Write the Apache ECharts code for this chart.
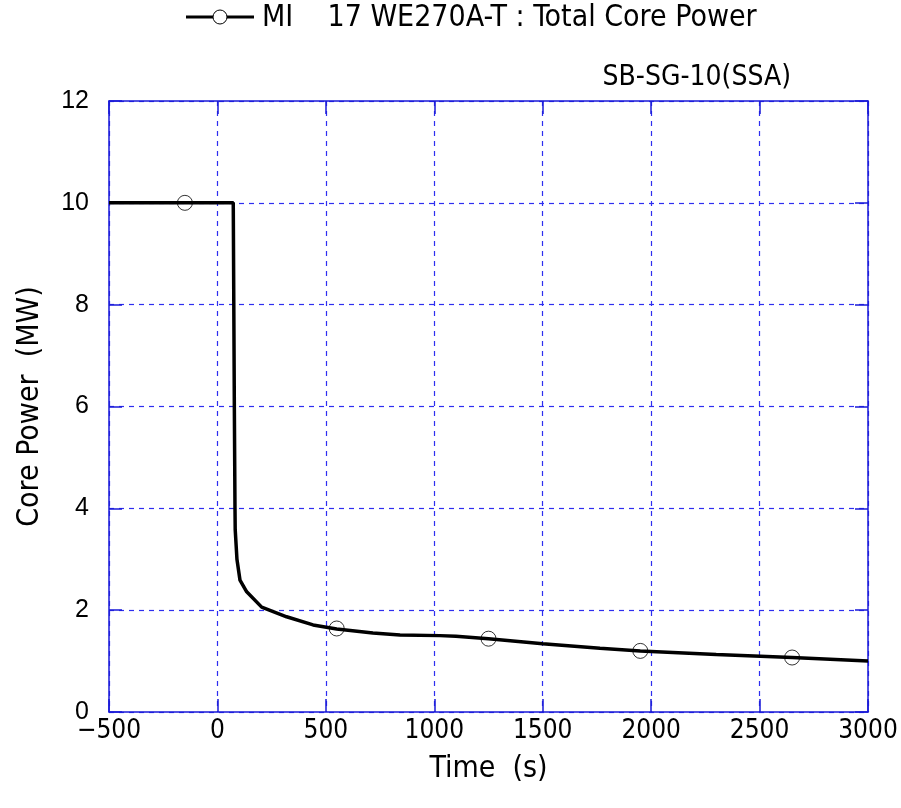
<!DOCTYPE html>
<html>
<head>
<meta charset="utf-8">
<script src="https://cdn.jsdelivr.net/npm/echarts@6/dist/echarts.min.js"></script>
<style>html,body{margin:0;padding:0;background:#fff}#c{width:901px;height:808px}</style>
</head>
<body>
<div id="c"></div>
<script>
const seriesName = 'MI    17 WE270A-T : Total Core Power';
const timeS = [-500, 73, 78, 81, 82, 90, 104, 135, 204, 319, 441, 550, 717, 842, 1026, 1100, 1250, 1500, 1764, 1950, 2300, 2650, 3000];
const powerMW = [10, 10, 6, 4, 3.58, 3.0, 2.59, 2.36, 2.06, 1.87, 1.71, 1.63, 1.55, 1.51, 1.50, 1.49, 1.44, 1.34, 1.25, 1.20, 1.13, 1.07, 1.0];
const markerTime = [-150, 550, 1250, 1950, 2650];
const markerPower = [10, 1.64, 1.44, 1.20, 1.07];
const xTicks = [-500, 0, 500, 1000, 1500, 2000, 2500, 3000];
const yTicks = [0, 2, 4, 6, 8, 10, 12];

const FONT = '"DejaVu Sans Condensed", "Liberation Sans Narrow", "Liberation Sans", sans-serif';
const BLUE = '#1a1ad8';
const GRIDC = '#2e2ef0';

const chart = echarts.init(document.getElementById('c'));
const line = timeS.map((t, i) => [t, powerMW[i]]);
const marks = markerTime.map((t, i) => [t, markerPower[i]]);

const axisCommon = {
  axisLine: {show: true, onZero: false, lineStyle: {color: BLUE, width: 1.5}},
  axisTick: {show: true, inside: true, length: 13, lineStyle: {color: BLUE, width: 1.5}},
};

chart.setOption({
  animation: false,
  backgroundColor: '#fff',
  grid: {left: 109, right: 33, top: 101, bottom: 96},
  legend: {show: false},
  graphic: [
    {type: 'line', shape: {x1: 186, y1: 17, x2: 254, y2: 17}, style: {stroke: '#000', lineWidth: 3}},
    {type: 'circle', shape: {cx: 220, cy: 17, r: 7}, style: {fill: '#fff', stroke: '#000', lineWidth: 1}},
    {type: 'text', left: 262, top: 3,
      style: {text: seriesName, font: '30px ' + FONT, fill: '#000'}},
    {type: 'text', right: 110, top: 64,
      style: {text: 'SB-SG-10(SSA)', font: '28px ' + FONT, fill: '#000'}}
  ],
  xAxis: [{
    type: 'value', min: -500, max: 3000, interval: 500,
    name: 'Time  (s)', nameLocation: 'middle', nameGap: 42,
    nameTextStyle: {fontFamily: FONT, fontSize: 30, color: '#000'},
    axisLabel: {color: '#000', fontFamily: FONT, fontSize: 26, margin: 6,
      formatter: v => xTicks.includes(v) ? String(v).replace('-', '−') : ''},
    splitLine: {show: true, lineStyle: {color: GRIDC, type: [5, 5], width: 1.2}},
    ...axisCommon
  }, {
    type: 'value', position: 'top', min: -500, max: 3000, interval: 500,
    axisLabel: {show: false}, splitLine: {show: false},
    ...axisCommon
  }],
  yAxis: [{
    type: 'value', min: 0, max: 12, interval: 2,
    name: 'Core Power  (MW)', nameLocation: 'middle', nameGap: 64,
    nameTextStyle: {fontFamily: FONT, fontSize: 30, color: '#000'},
    axisLabel: {color: '#000', fontFamily: '"Liberation Sans", Arial, sans-serif', fontSize: 25, margin: 20,
      formatter: v => yTicks.includes(v) ? String(v) : ''},
    splitLine: {show: true, lineStyle: {color: GRIDC, type: [5, 5], width: 1.2}},
    ...axisCommon
  }, {
    type: 'value', position: 'right', min: 0, max: 12, interval: 2,
    axisLabel: {show: false}, splitLine: {show: false},
    ...axisCommon
  }],
  series: [{
    name: seriesName,
    type: 'line',
    data: line,
    symbol: 'none',
    lineStyle: {color: '#000', width: 3.5},
    z: 3
  }, {
    name: 'markers',
    type: 'scatter',
    data: marks,
    symbol: 'circle', symbolSize: 15,
    itemStyle: {color: 'rgba(0,0,0,0)', borderColor: '#000', borderWidth: 1},
    z: 4
  }]
});
</script>
</body>
</html>
